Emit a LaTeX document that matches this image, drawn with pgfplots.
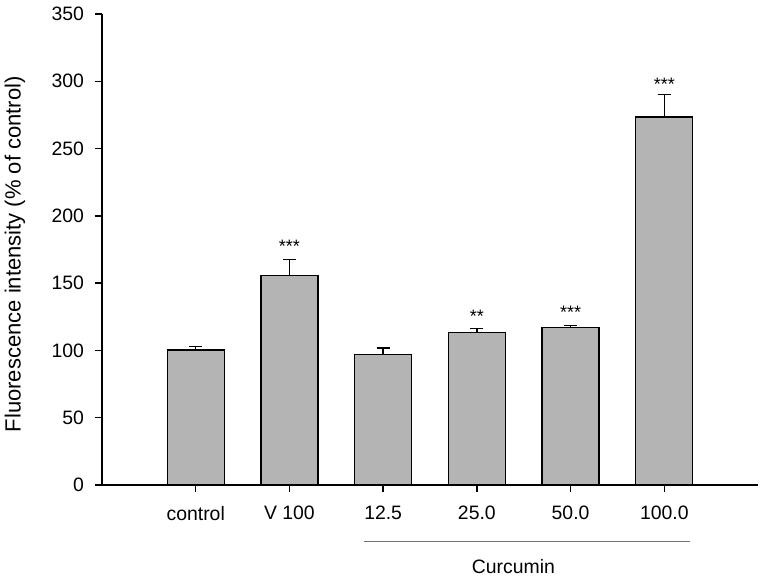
\documentclass[border=0pt]{standalone}
\usepackage{fontspec}
\setmainfont{Liberation Sans}
\usepackage{pgfplots}
\pgfplotsset{compat=1.18}

\definecolor{barfill}{RGB}{180,180,180}

% bar means and SEM (upper error only)
\pgfplotstableread{
x  y      e
1  100.3  2.4
2  155.8  11.6
3  96.8   5.0
4  113.4  2.7
5  117.1  1.5
6  273.4  16.8
}\bardata

\pgfplotstableread{
x  y      s
2  177.5  ***
4  125.0  **
5  128.5  ***
6  297.5  ***
}\stars

\begin{document}
\begin{tikzpicture}
\begin{axis}[
    scale only axis,
    width=328pt, height=235.5pt,
    xmin=0, xmax=7,
    ymin=0, ymax=350,
    axis lines*=left,
    axis line style={line width=0.65pt},
    xtick={1,2,3,4,5,6},
    xticklabels={control, V 100, 12.5, 25.0, 50.0, 100.0},
    ytick={0,50,100,150,200,250,300,350},
    tick align=outside,
    major tick length=3.5pt,
    tick style={line width=0.65pt, black},
    /pgf/number format/assume math mode=true,
    tick label style={font=\fontsize{9.7}{11}\selectfont},
    xticklabel style={yshift=-3.5pt},
    yticklabel style={xshift=-2pt},
    ylabel={Fluorescence intensity (\% of control)},
    ylabel style={font=\fontsize{11}{13}\selectfont, at={(axis description cs:-0.1326,0.49)}, anchor=center},
    clip=false,
]
\addplot[ybar, bar width=28.5pt, bar shift=0pt, fill=barfill, draw=black, line width=0.65pt,
    error bars/.cd, y dir=plus, y explicit,
    error bar style={line width=0.65pt, black},
    error mark options={rotate=90, mark size=3.3pt, line width=0.65pt, black}]
    table[x=x, y=y, y error=e] {\bardata};

\addplot[only marks, mark=none, nodes near coords, point meta=explicit symbolic,
    nodes near coords style={anchor=center, font=\fontsize{9}{10}\selectfont}]
    table[x=x, y=y, meta=s] {\stars};

\draw[line width=0.5pt, black!55] (axis cs:2.795,-42.3) -- (axis cs:6.27,-42.3);
\node[font=\fontsize{9.7}{11}\selectfont] at (axis cs:4.39,-60.5) {Curcumin};
\end{axis}
\pgfresetboundingbox
\path ([shift={(-51pt,-46.5pt)}]current axis.south west) rectangle ([shift={(3.5pt,7pt)}]current axis.north east);
\end{tikzpicture}
\end{document}
